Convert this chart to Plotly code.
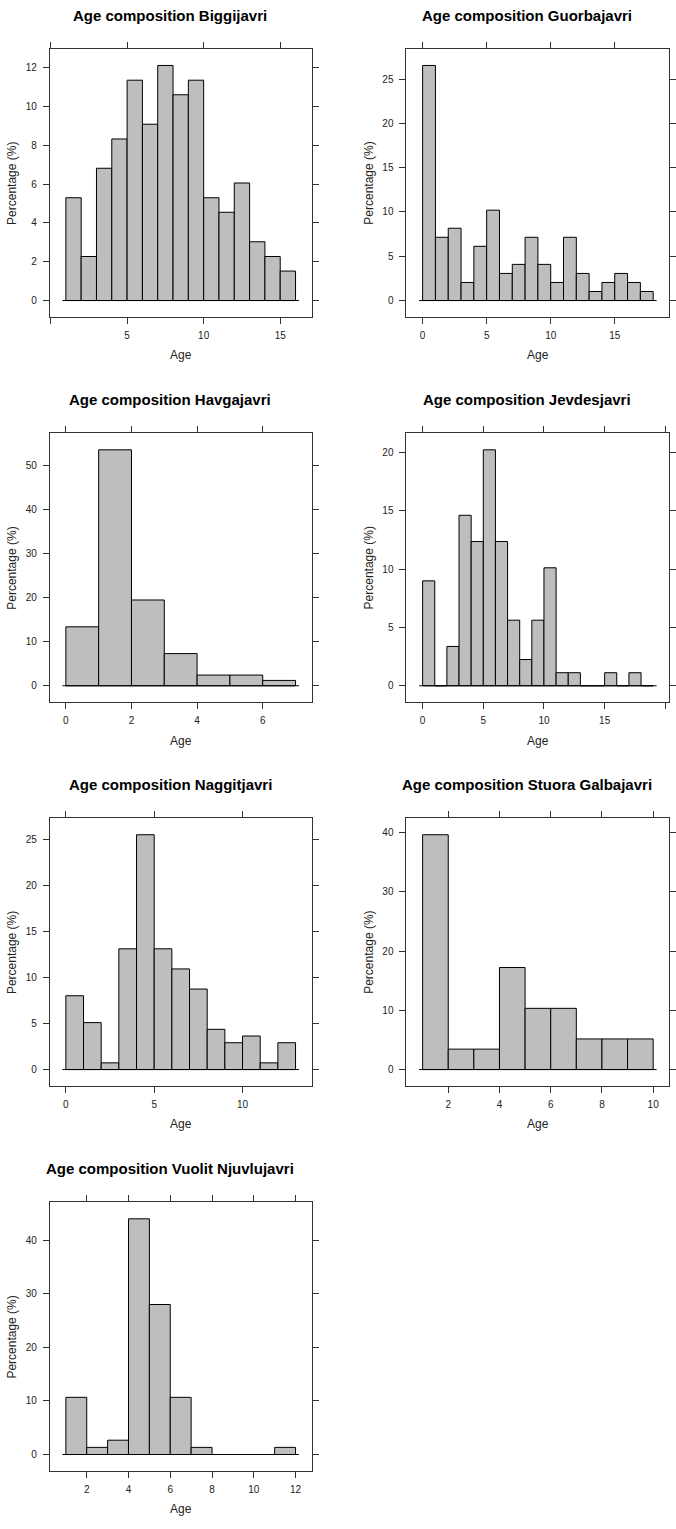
import plotly.graph_objects as go

# ---------------- data ----------------
titles = ["Age composition Biggijavri", "Age composition Guorbajavri",
          "Age composition Havgajavri", "Age composition Jevdesjavri",
          "Age composition Naggitjavri", "Age composition Stuora Galbajavri",
          "Age composition Vuolit Njuvlujavri"]

biggi_left = list(range(1, 16))
biggi_pct = [5.30, 2.27, 6.82, 8.33, 11.36, 9.09, 12.12, 10.61, 11.36, 5.30, 4.55, 6.06, 3.03, 2.27, 1.52]

guorb_left = list(range(0, 18))
guorb_pct = [26.53, 7.14, 8.16, 2.04, 6.12, 10.20, 3.06, 4.08, 7.14, 4.08, 2.04, 7.14, 3.06, 1.02, 2.04, 3.06, 2.04, 1.02]

havga_left = list(range(0, 7))
havga_pct = [13.41, 53.66, 19.51, 7.32, 2.44, 2.44, 1.22]

jevdes_left = list(range(0, 19))
jevdes_pct = [8.99, 0, 3.37, 14.61, 12.36, 20.22, 12.36, 5.62, 2.25, 5.62, 10.11, 1.12, 1.12, 0, 0, 1.12, 0, 1.12, 0]

naggit_left = list(range(0, 13))
naggit_pct = [8.03, 5.11, 0.73, 13.14, 25.55, 13.14, 10.95, 8.76, 4.38, 2.92, 3.65, 0.73, 2.92]

stuora_left = list(range(1, 10))
stuora_pct = [39.66, 3.45, 3.45, 17.24, 10.34, 10.34, 5.17, 5.17, 5.17]

vuolit_left = list(range(1, 12))
vuolit_pct = [10.67, 1.33, 2.67, 44.00, 28.00, 10.67, 1.33, 0, 0, 0, 1.33]

x_tickvals = [[0, 5, 10, 15], [0, 5, 10, 15], [0, 2, 4, 6], [0, 5, 10, 15, 20],
              [0, 5, 10], [2, 4, 6, 8, 10], [2, 4, 6, 8, 10, 12]]
x_ticktext = [["", "5", "10", "15"], ["0", "5", "10", "15"], ["0", "2", "4", "6"],
              ["0", "5", "10", "15", ""], ["0", "5", "10"], ["2", "4", "6", "8", "10"],
              ["2", "4", "6", "8", "10", "12"]]
y_dtick = [2, 5, 10, 5, 5, 10, 10]

lefts = [biggi_left, guorb_left, havga_left, jevdes_left, naggit_left, stuora_left, vuolit_left]
pcts = [biggi_pct, guorb_pct, havga_pct, jevdes_pct, naggit_pct, stuora_pct, vuolit_pct]

# ---------------- layout geometry ----------------
W, H = 676, 1529
col_px = [(50, 313), (408.3, 672.3)]
row_px = [(49, 317), (433.3, 702.3), (818.3, 1086), (1202.3, 1471)]

FONT = "Liberation Sans, Arial, sans-serif"
AX = "#333333"

fig = go.Figure()
annotations = []
layout_axes = {}

for i in range(7):
    r, c = divmod(i, 2)
    x0, x1 = col_px[c]
    y0, y1 = row_px[r]
    xd = [x0 / W, x1 / W]
    yd = [1 - y1 / H, 1 - y0 / H]
    lo = lefts[i][0]
    hi = lefts[i][-1] + 1
    span = hi - lo
    xr = [lo - 0.07 * span, hi + 0.07 * span]
    ymax = max(pcts[i])
    yr = [-0.07 * ymax, 1.07 * ymax]
    n = i + 1
    xa = "x" if n == 1 else f"x{n}"
    ya = "y" if n == 1 else f"y{n}"

    fig.add_trace(go.Bar(
        x=[v + 0.5 for v in lefts[i]], y=pcts[i], width=1,
        marker=dict(color="#BEBEBE", line=dict(color="black", width=1)),
        xaxis=xa, yaxis=ya, hoverinfo="x+y"))
    fig.add_trace(go.Scatter(
        x=[lo - 0.015 * span, hi + 0.015 * span], y=[0, 0], mode="lines",
        line=dict(color="black", width=1), xaxis=xa, yaxis=ya, hoverinfo="skip"))

    common = dict(showline=True, linecolor=AX, linewidth=1, mirror="allticks",
                  ticks="outside", ticklen=6, tickcolor=AX, tickwidth=1,
                  showgrid=False, zeroline=False, fixedrange=True,
                  tickfont=dict(family=FONT, size=10, color="#222222"))
    layout_axes["xaxis" if n == 1 else f"xaxis{n}"] = dict(
        domain=xd, range=xr, anchor=ya, tickmode="array",
        tickvals=x_tickvals[i], ticktext=x_ticktext[i], ticklabelstandoff=3, **common)
    layout_axes["yaxis" if n == 1 else f"yaxis{n}"] = dict(
        domain=yd, range=yr, anchor=xa, dtick=y_dtick[i], tick0=0,
        ticklabelstandoff=4, **common)

    cx_title = (x0 + x1) / 2 - 10.5
    annotations.append(dict(text=f"<b>{titles[i]}</b>", x=cx_title / W, y=1 - (y0 - 34) / H,
                            xref="paper", yref="paper", xanchor="center", yanchor="middle",
                            showarrow=False, font=dict(family=FONT, size=15, color="black")))
    annotations.append(dict(text="Age", x=(x0 + x1) / 2 / W, y=1 - (y1 + 38.3) / H,
                            xref="paper", yref="paper", xanchor="center", yanchor="middle",
                            showarrow=False, font=dict(family=FONT, size=12, color="#222222")))
    annotations.append(dict(text="Percentage (%)", x=(x0 - 38) / W, y=1 - (y0 + y1) / 2 / H,
                            xref="paper", yref="paper", xanchor="center", yanchor="middle",
                            textangle=-90, showarrow=False,
                            font=dict(family=FONT, size=12, color="#222222")))

fig.update_layout(width=W, height=H, margin=dict(l=0, r=0, t=0, b=0),
                  paper_bgcolor="white", plot_bgcolor="white", showlegend=False,
                  hovermode=False, annotations=annotations, **layout_axes)

fig.write_html("out.html", config={"displayModeBar": False, "staticPlot": True},
               post_script="document.body.style.margin='0';document.body.style.overflow='hidden';")
